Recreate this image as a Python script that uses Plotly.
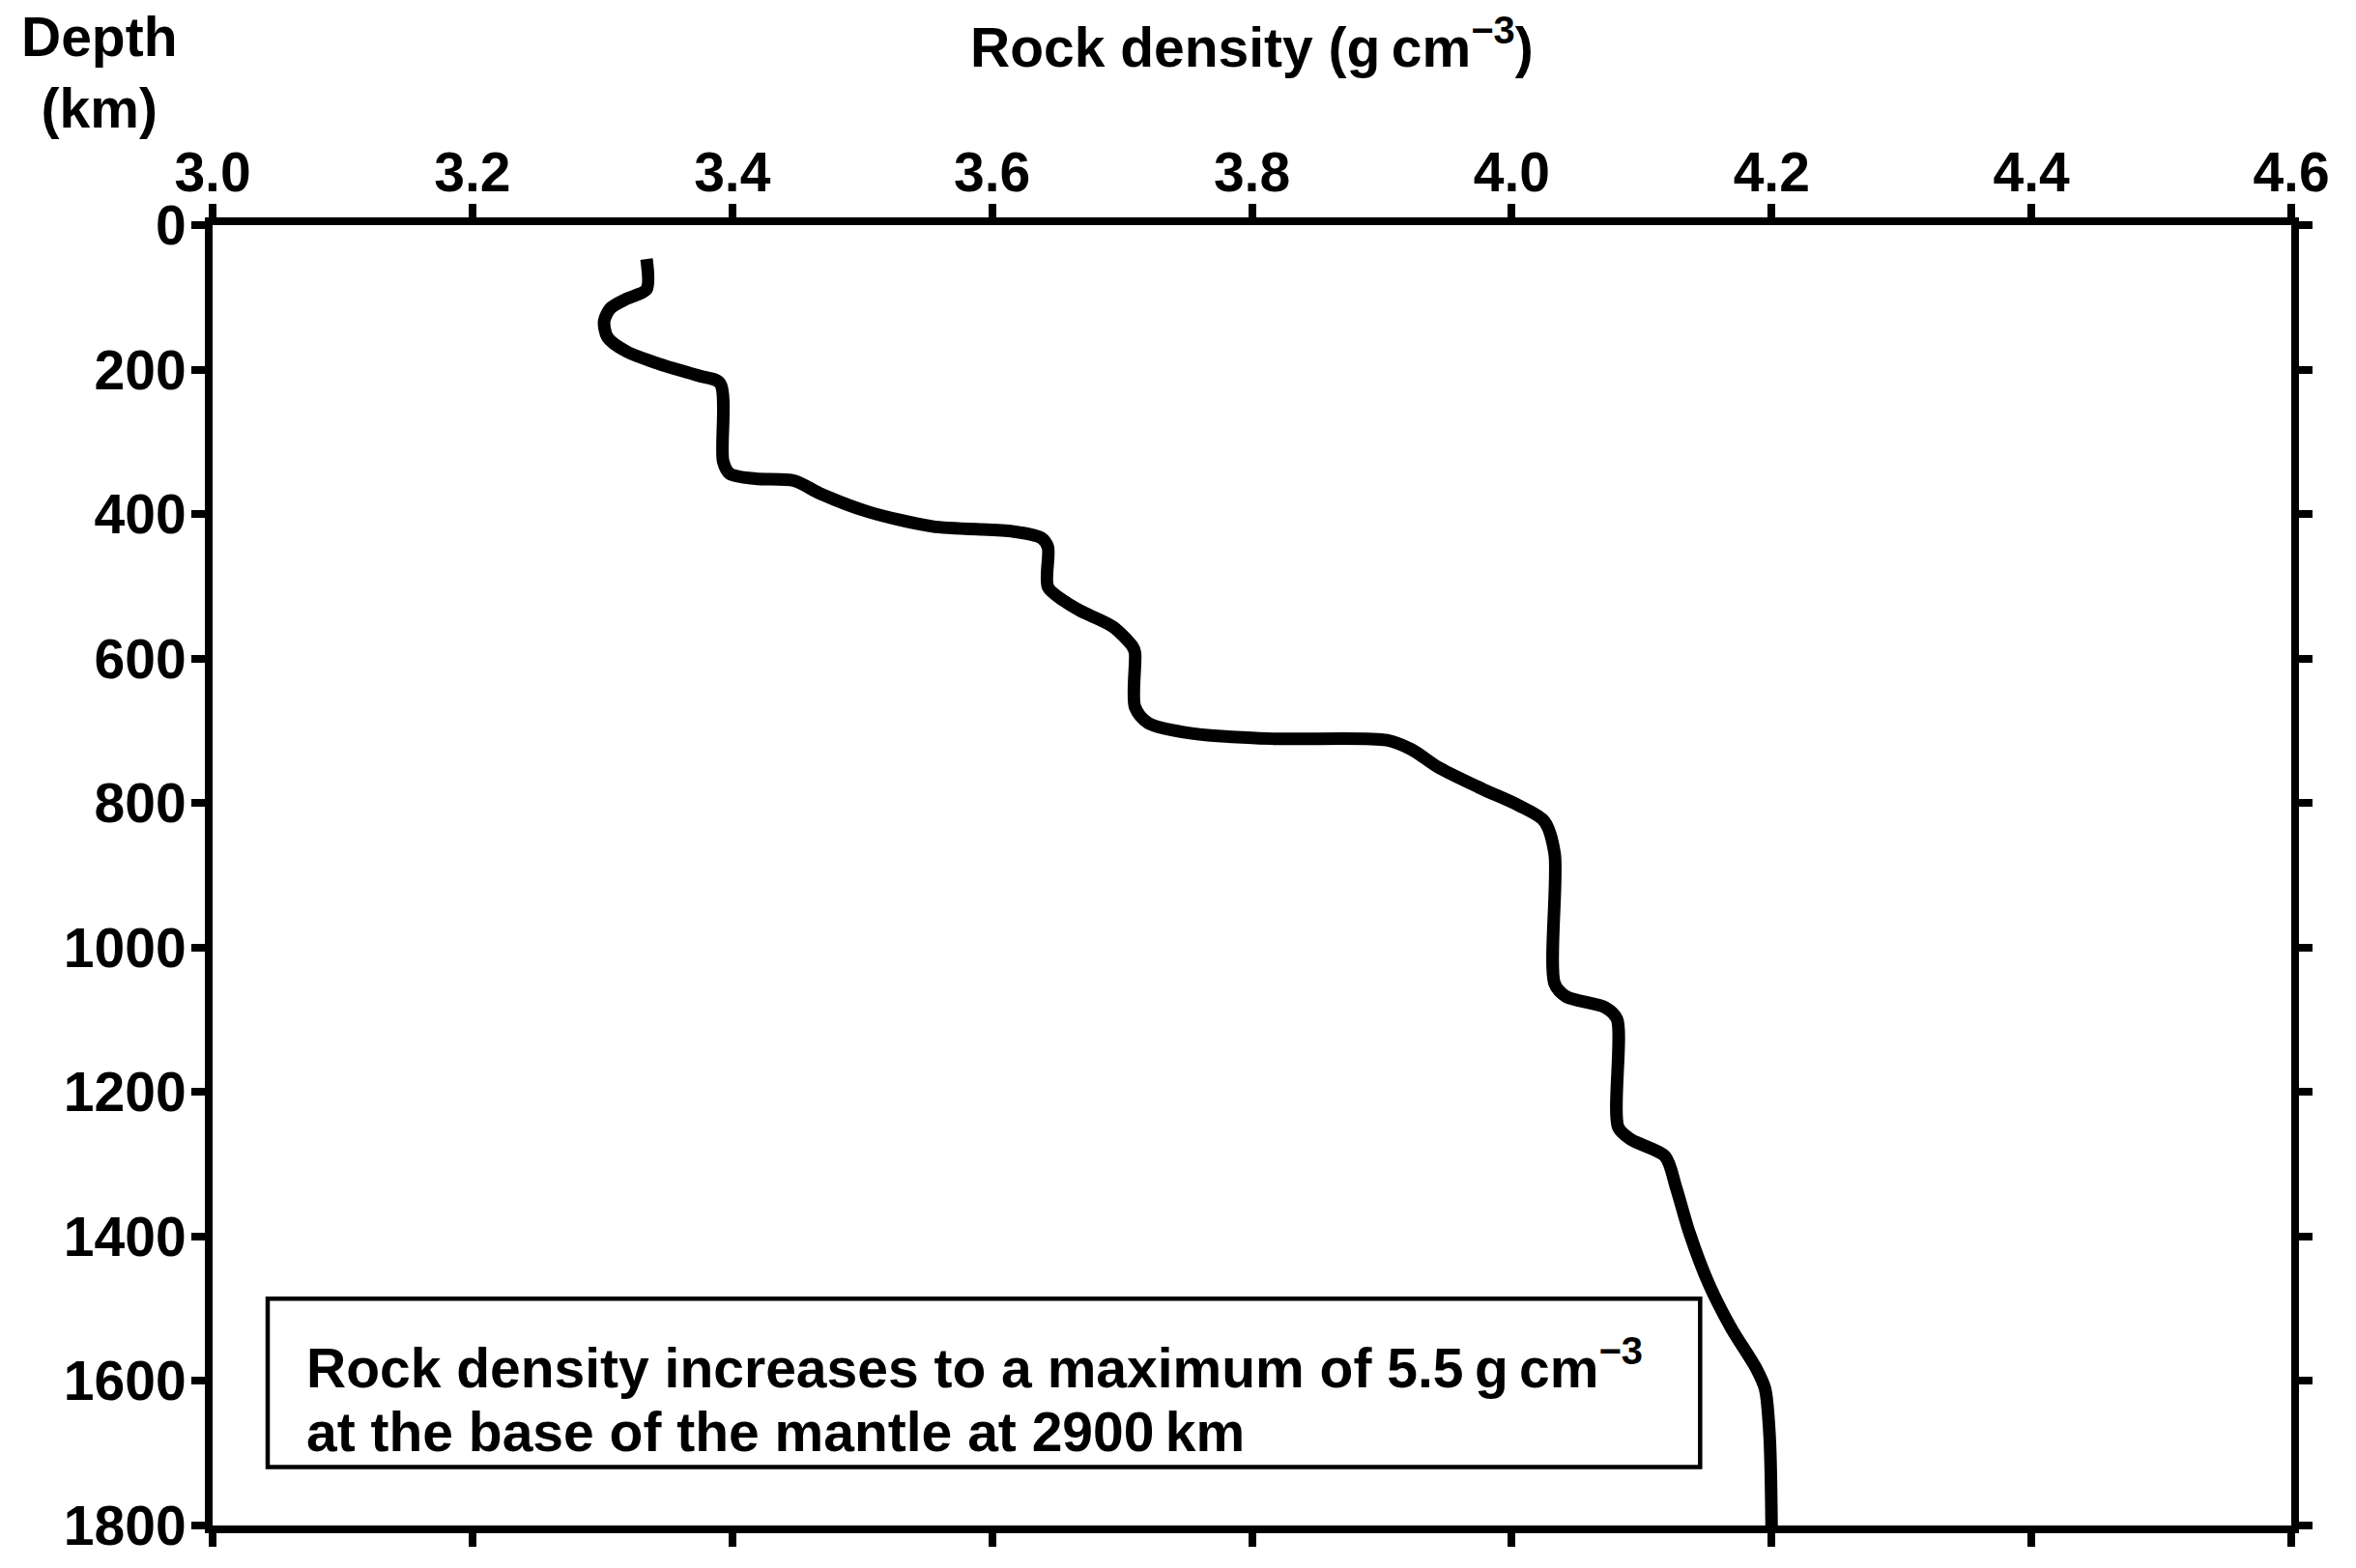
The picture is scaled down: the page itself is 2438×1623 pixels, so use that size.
import plotly.graph_objects as go

# Data
density = [3.334, 3.334, 3.3187, 3.3063, 3.3014, 3.3039, 3.3187, 3.3435, 3.3732, 3.3906,
           3.393, 3.398, 3.418, 3.448, 3.467, 3.505, 3.554, 3.616, 3.638, 3.643,
           3.643, 3.656, 3.668, 3.693, 3.708, 3.710, 3.710, 3.720, 3.755, 3.817,
           3.904, 3.923, 3.943, 3.978, 4.005, 4.025, 4.033, 4.033, 4.042, 4.072,
           4.081, 4.082, 4.092, 4.118, 4.1266, 4.1366, 4.1515, 4.169, 4.1886, 4.195,
           4.1985, 4.200]
depth_km = [47, 89, 102, 115, 133, 155, 175, 192, 208, 219,
            327, 344, 351, 354, 371, 397, 417, 424, 433, 446,
            501, 521, 534, 556, 583, 592, 667, 689, 704, 711,
            713, 726, 750, 781, 803, 825, 870, 1050, 1068, 1083,
            1099, 1249, 1266, 1289, 1333, 1394, 1465, 1527, 1584, 1611,
            1677, 1800]

x_ticks = [3.0, 3.2, 3.4, 3.6, 3.8, 4.0, 4.2, 4.4, 4.6]
y_ticks = [0, 200, 400, 600, 800, 1000, 1200, 1400, 1600, 1800]

title_text = "Rock density (g\u2009cm<sup>\u22123</sup>)"
ylabel_text = "Depth<br>(km)"
note_line1 = "Rock density increases to a maximum of 5.5\u2009g\u2009cm<sup>\u22123</sup>"
note_line2 = "at the base of the mantle at 2900\u2009km"

FONT = "Liberation Sans, Arial, sans-serif"
FS = 57

fig = go.Figure()
fig.add_trace(go.Scatter(
    x=density, y=depth_km, mode="lines",
    line=dict(color="black", width=13, shape="spline", smoothing=0.8),
    showlegend=False, hoverinfo="skip",
))

axis_common = dict(
    showline=True, linecolor="black", linewidth=8,
    ticks="outside", ticklen=14, tickwidth=8, tickcolor="black",
    mirror="ticks", showgrid=False, zeroline=False,
    ticklabeloverflow="allow",
    tickfont=dict(family=FONT, size=FS, color="black", weight="bold"),
)

fig.update_xaxes(range=[3.0, 4.6], tickvals=x_ticks,
                 ticktext=[f"{v:.1f}" for v in x_ticks], side="top",
                 ticklabelstandoff=-10, **axis_common)
fig.update_yaxes(range=[1800, 0], tickvals=y_ticks,
                 ticktext=[str(v) for v in y_ticks],
                 ticklabelstandoff=-6, **axis_common)

# Axis titles
fig.add_annotation(text=title_text, xref="paper", yref="paper",
                   x=0.5, y=1.14, xanchor="center", yanchor="middle",
                   showarrow=False,
                   font=dict(family=FONT, size=FS, color="black", weight="bold"))
fig.add_annotation(text=ylabel_text, xref="paper", yref="paper",
                   x=-0.0548, y=1.1176, xanchor="center", yanchor="middle",
                   showarrow=False, align="center",
                   font=dict(family=FONT, size=FS, color="black", weight="bold"))

# Note box
fig.add_shape(type="rect", xref="x", yref="y",
              x0=3.0424, x1=4.145, y0=1486, y1=1719,
              line=dict(color="black", width=4.5), fillcolor="rgba(0,0,0,0)")
fig.add_annotation(text=note_line1, xref="x", yref="y",
                   x=3.071, y=1576, xanchor="left", yanchor="middle",
                   showarrow=False,
                   font=dict(family=FONT, size=FS, color="black", weight="bold"))
fig.add_annotation(text=note_line2, xref="x", yref="y",
                   x=3.071, y=1670, xanchor="left", yanchor="middle",
                   showarrow=False,
                   font=dict(family=FONT, size=FS, color="black", weight="bold"))

fig.update_layout(
    width=2438, height=1623,
    margin=dict(l=220, r=67, t=233, b=30),
    paper_bgcolor="white", plot_bgcolor="white",
)

fig.write_html("out.html")
